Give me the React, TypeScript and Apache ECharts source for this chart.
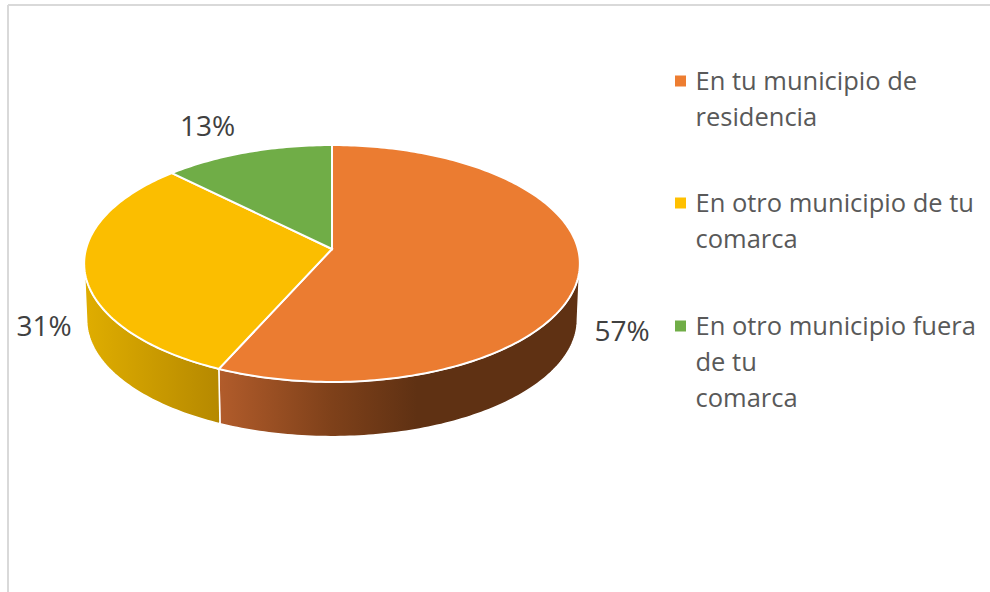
import React, { useEffect, useRef } from "react";
import * as echarts from "echarts";

const categories = [
  "En tu municipio de\nresidencia",
  "En otro municipio de tu\ncomarca",
  "En otro municipio fuera\nde tu\ncomarca",
];
const values = [56.7, 30.8, 12.5];

const topColors = ["#EB7C31", "#FBBE00", "#70AD47"];
const legendColors = ["#ED7D31", "#FFC000", "#70AD47"];
const wallStops = [
  [[0, "#B25C2B"], [0.31, "#7F411A"], [0.55, "#5F3113"], [1, "#5F3113"]],
  [[0, "#DFAD00"], [1, "#B68900"]],
  [[0, "#4F7A32"], [1, "#4F7A32"]],
];
const wallRanges = [[218, 580], [86, 218], [172, 332]];
const labelPos = [[622, 330], [44, 325], [207.5, 125]];
const legendTops = [81, 203, 326];

const CX = 332, CY = 249, K = 0.1224, A = 116.7, B = 246, DEPTH = 56, SHRINK = 0.99;
const FRONT_START = 97, FRONT_END = 263;
const total = values.reduce((s, v) => s + v, 0);

function project(deg: number, bottom: boolean): number[] {
  const t = (deg * Math.PI) / 180;
  const u = Math.sin(t), v = Math.cos(t);
  const s = 1 / (1 + K * v);
  const x = B * u * s, y = -A * v * s;
  return bottom ? [CX + x * SHRINK, CY + y * SHRINK + DEPTH] : [CX + x, CY + y];
}

function arc(a0: number, a1: number, bottom: boolean): number[][] {
  const n = Math.max(2, Math.ceil(Math.abs(a1 - a0)));
  const pts: number[][] = [];
  for (let i = 0; i <= n; i++) pts.push(project(a0 + ((a1 - a0) * i) / n, bottom));
  return pts;
}

function renderSlice(index: number) {
  return (_params: any, api: any) => {
    const value = api.value(0);
    const before = values.slice(0, index).reduce((s, v) => s + v, 0);
    const a0 = (before / total) * 360;
    const a1 = a0 + (value / total) * 360;
    const [gx0, gx1] = wallRanges[index];
    const w0 = Math.max(a0, FRONT_START);
    const w1 = Math.min(a1, FRONT_END);
    const children: any[] = [];
    if (w1 > w0) {
      children.push({
        type: "polygon",
        z2: 1,
        shape: { points: [...arc(w0, w1, false), ...arc(w1, w0, true)] },
        style: {
          fill: {
            type: "linear", global: true, x: gx0, y: 0, x2: gx1, y2: 0,
            colorStops: wallStops[index].map(([offset, color]) => ({ offset, color })),
          },
          stroke: "#FFFFFF", lineWidth: 1.5,
        },
      });
    }
    children.push({
      type: "polygon",
      z2: 2,
      shape: { points: [[CX, CY], ...arc(a0, a1, false)] },
      style: { fill: topColors[index], stroke: "#FFFFFF", lineWidth: 2 },
    });
    children.push({
      type: "text",
      z2: 3,
      style: {
        text: `${Math.round((value / total) * 100)}%`,
        x: labelPos[index][0], y: labelPos[index][1],
        align: "center", verticalAlign: "middle",
        fontFamily: "Open Sans", fontSize: 28, fill: "#404040",
      },
    });
    return { type: "group", children };
  };
}

export default function App() {
  const ref = useRef<HTMLDivElement>(null);
  useEffect(() => {
    const chart = echarts.init(ref.current!, null, { renderer: "svg" });
    const legendGraphics: any[] = [];
    categories.forEach((name, i) => {
      legendGraphics.push({
        type: "rect", left: 675, top: legendTops[i] - 5.5,
        shape: { x: 0, y: 0, width: 11, height: 11 },
        style: { fill: legendColors[i] },
      });
      legendGraphics.push({
        type: "text", x: 695.5, y: legendTops[i] - 19,
        style: {
          text: name, x: 0, y: 0, fontFamily: "Open Sans", fontSize: 25.5,
          lineHeight: 36, fill: "#595959", align: "left", verticalAlign: "top",
        },
      });
    });
    chart.setOption({
      animation: false,
      backgroundColor: "#FFFFFF",
      tooltip: { show: false },
      graphic: [
        { type: "line", shape: { x1: 8, y1: 5, x2: 990, y2: 5 }, style: { stroke: "#D9D9D9", lineWidth: 2 } },
        { type: "line", shape: { x1: 8, y1: 5, x2: 8, y2: 592 }, style: { stroke: "#D9D9D9", lineWidth: 2 } },
        ...legendGraphics,
      ],
      series: categories.map((name, i) => ({
        type: "custom",
        name,
        coordinateSystem: "none",
        silent: true,
        renderItem: renderSlice(i),
        data: [[values[i]]],
      })),
    });
    return () => chart.dispose();
  }, []);
  return <div ref={ref} style={{ position: "absolute", left: 0, top: 0, width: 990, height: 592 }} />;
}
